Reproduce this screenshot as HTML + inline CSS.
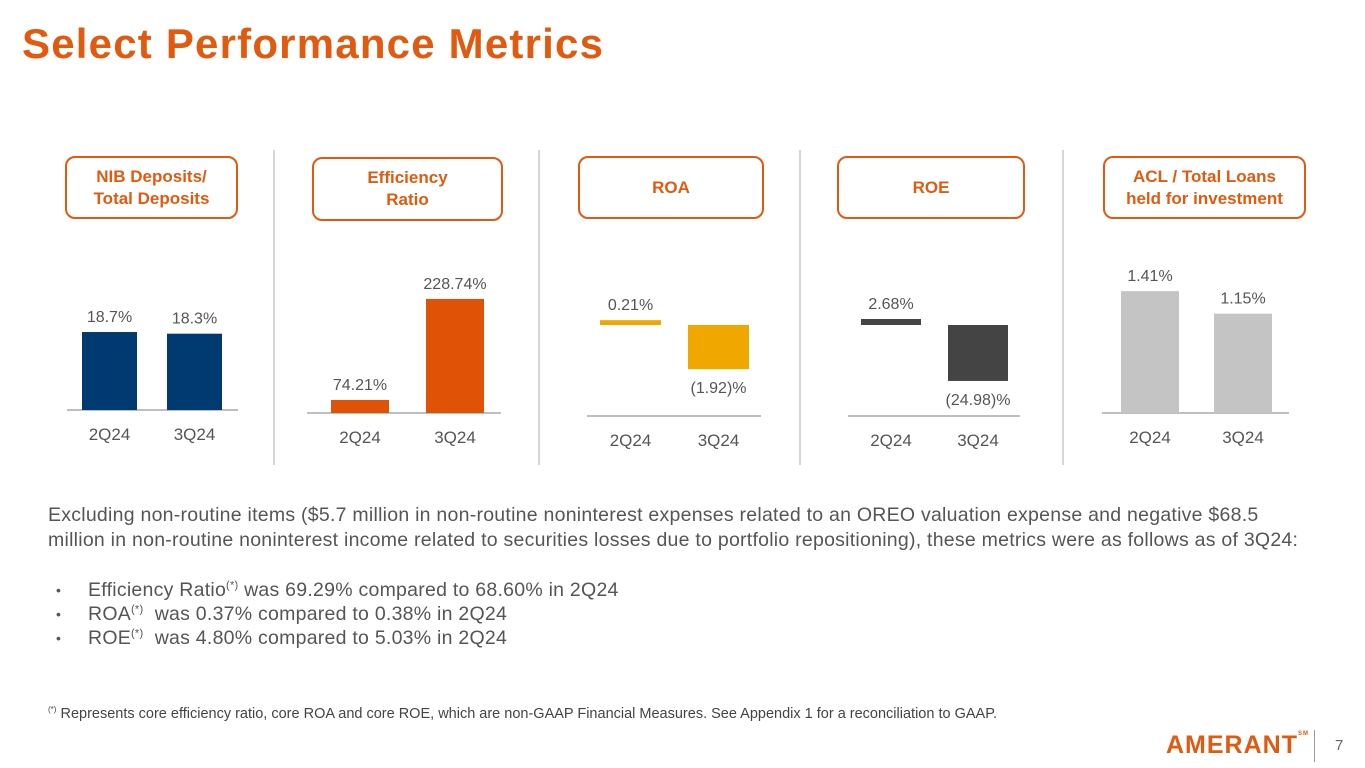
<!DOCTYPE html>
<html><head><meta charset="utf-8">
<style>
body{margin:0;width:1365px;height:768px;background:#fff;font-family:"Liberation Sans",sans-serif;position:relative;overflow:hidden}
.t{position:absolute;white-space:nowrap}
h1{position:absolute;left:22px;top:20px;margin:0;font-size:42px;font-weight:bold;color:#e05a10;letter-spacing:1.2px}
.hdr{position:absolute;border:2px solid #e05a10;border-radius:10px;color:#e05a10;font-weight:bold;font-size:17px;text-align:center;display:flex;align-items:center;justify-content:center;line-height:22px;box-sizing:border-box}
.sep{position:absolute;width:2px;background:#d6d6d6;top:150px;height:315px}
.body{position:absolute;left:48px;color:#555;font-size:19.5px;letter-spacing:0.25px;white-space:nowrap}
sup{line-height:0}
.bl{position:relative;padding-left:40px}
.bl b{position:absolute;left:8px;font-weight:normal;font-size:14px}
</style></head><body>
<h1>Select Performance Metrics</h1>

<div class="hdr" style="left:65px;top:156px;width:173px;height:63px">NIB Deposits/<br>Total Deposits</div>
<div class="hdr" style="left:312px;top:157px;width:191px;height:64px">Efficiency<br>Ratio</div>
<div class="hdr" style="left:578px;top:156px;width:186px;height:63px">ROA</div>
<div class="hdr" style="left:837px;top:156px;width:188px;height:63px">ROE</div>
<div class="hdr" style="left:1103px;top:156px;width:203px;height:63px">ACL / Total Loans<br>held for investment</div>

<div class="sep" style="left:273px"></div>
<div class="sep" style="left:538px"></div>
<div class="sep" style="left:799px"></div>
<div class="sep" style="left:1062px"></div>

<svg id="charts" width="1365" height="768" style="position:absolute;left:0;top:0"></svg>

<div class="body" style="top:503px;line-height:25px">Excluding non-routine items ($5.7 million in non-routine noninterest expenses related to an OREO valuation expense and negative $68.5<br>million in non-routine noninterest income related to securities losses due to portfolio repositioning), these metrics were as follows as of 3Q24:</div>
<div class="body" style="top:578px;line-height:24px">
<div class="bl"><b>•</b>Efficiency Ratio<sup style="font-size:11px">(*)</sup> was 69.29% compared to 68.60% in 2Q24</div>
<div class="bl"><b>•</b>ROA<sup style="font-size:11px">(*)</sup>&nbsp; was 0.37% compared to 0.38% in 2Q24</div>
<div class="bl"><b>•</b>ROE<sup style="font-size:11px">(*)</sup>&nbsp; was 4.80% compared to 5.03% in 2Q24</div>
</div>
<div class="t" style="left:48px;top:706px;font-size:14.5px;color:#444"><sup style="font-size:8px">(*)</sup> Represents core efficiency ratio, core ROA and core ROE, which are non-GAAP Financial Measures. See Appendix 1 for a reconciliation to GAAP.</div>
<div class="t" style="left:1166px;top:731px;font-size:25px;font-weight:bold;color:#e05a10;letter-spacing:1px">AMERANT<span style="font-size:6px;vertical-align:top">SM</span></div>
<div style="position:absolute;left:1314px;top:730px;width:1px;height:32px;background:#999"></div>
<div class="t" style="left:1335px;top:737px;font-size:15px;color:#666">7</div>

<script>
const categories=["2Q24","3Q24"];
const nibValues=[18.7,18.3];
const nibLabels=["18.7%","18.3%"];
const effValues=[74.21,228.74];
const effLabels=["74.21%","228.74%"];
const roaValues=[0.21,-1.92];
const roaLabels=["0.21%","(1.92)%"];
const roeValues=[2.68,-24.98];
const roeLabels=["2.68%","(24.98)%"];
const aclValues=[1.41,1.15];
const aclLabels=["1.41%","1.15%"];

const svg=document.getElementById('charts');
const NS="http://www.w3.org/2000/svg";
function mk(tag,attrs){const e=document.createElementNS(NS,tag);for(const k in attrs)e.setAttribute(k,attrs[k]);svg.appendChild(e);return e;}
function txt(x,y,s,size,fill){const e=mk('text',{x:x,y:y,'text-anchor':'middle','font-size':size,fill:fill,'font-family':'Liberation Sans, sans-serif'});e.textContent=s;return e;}

function chart(id,vals,labels,color,cfg){
  const yScale=v=>cfg.zeroY-(v-cfg.min)*cfg.k;
  const ax=mk('line',{x1:cfg.ax0,x2:cfg.ax1,y1:cfg.axisY,y2:cfg.axisY,stroke:'#bfbfbf','stroke-width':2});
  
  
  vals.forEach((v,i)=>{
    const x=cfg.xs[i];
    const y0=yScale(cfg.min>0?cfg.min:0), y1=yScale(v);
    const top=Math.min(y0,y1), h=Math.abs(y1-y0);
    const r=mk('rect',{x:x,y:top,width:cfg.w,height:h,fill:color});
    
    
    const ly=v>=0?top-10:top+h+24;
    const l=txt(x+cfg.w/2,ly,labels[i],16,'#555');
    
    
    const c=txt(x+cfg.w/2,cfg.axisY+30,categories[i],17,'#555');
    
    
  });
}
chart('nib',nibValues,nibLabels,'#003a70',{xs:[82,167],w:55,ax0:67,ax1:238,axisY:410,zeroY:410,k:4.17,min:0});
chart('efficiency',effValues,effLabels,'#e05206',{xs:[331,426],w:58,ax0:307,ax1:501,axisY:413,zeroY:413,k:0.6536,min:54.3});
chart('roa',roaValues,roaLabels,'#f0a800',{xs:[600,688],w:61,ax0:587,ax1:761,axisY:416,zeroY:325,k:23,min:0});
chart('roe',roeValues,roeLabels,'#444444',{xs:[861,948],w:60,ax0:848,ax1:1020,axisY:416,zeroY:325,k:2.24,min:0});
chart('acl',aclValues,aclLabels,'#c4c4c4',{xs:[1121,1214],w:58,ax0:1102,ax1:1289,axisY:413,zeroY:413,k:86.4,min:0});
</script>
</body></html>
